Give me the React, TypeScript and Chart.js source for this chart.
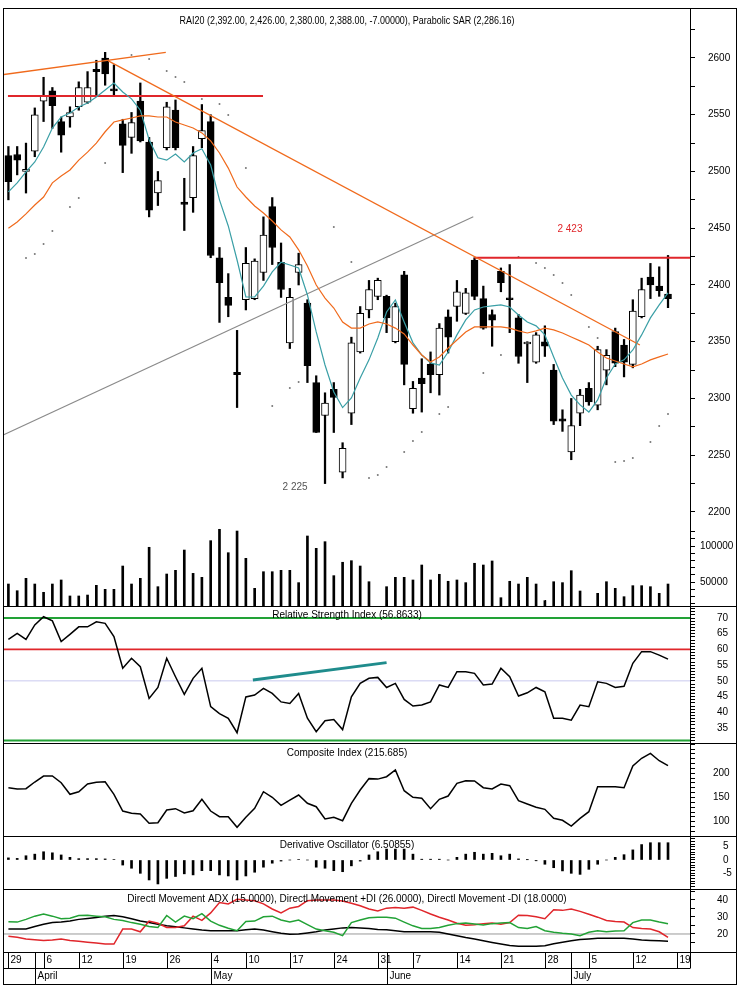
import React, { useEffect, useRef } from "react";
import { Chart, registerables } from "chart.js";

Chart.register(...registerables);

const FONT = '"Liberation Sans", Arial, Helvetica, sans-serif';

// ---------- categories / date axis ----------
const WEEK_SLOTS = [0, 4, 8, 13, 18, 23, 27, 32, 37, 42, 46, 51, 56, 61, 66, 71, 76];
const WEEK_LABELS = ["29", "6", "12", "19", "26", "4", "10", "17", "24", "31", "7", "14", "21", "28", "5", "12", "19"];
const MONTH_SLOTS = [3, 23, 43, 64];
const MONTH_LABELS = ["April", "May", "June", "July"];
const X_RANGE = [-0.5, 77.5];

// ---------- price (OHLC) ----------
const OPEN = [2514, 2515, 2500, 2518, 2562, 2571, 2544, 2548, 2557, 2561, 2590, 2600, 2572, 2542, 2530, 2562, 2526, 2481, 2521, 2554, 2473, 2477, 2529, 2544, 2424, 2389, 2323, 2387, 2388, 2411, 2469, 2420, 2349, 2411, 2384, 2314, 2285, 2308, 2235, 2287, 2341, 2378, 2390, 2390, 2350, 2409, 2291, 2318, 2330, 2321, 2372, 2381, 2375, 2422, 2388, 2374, 2412, 2388, 2371, 2348, 2332, 2350, 2325, 2282, 2253, 2287, 2309, 2294, 2325, 2359, 2347, 2330, 2372, 2407, 2399, 2392];
const HIGH = [2522, 2522, 2525, 2556, 2583, 2574, 2548, 2557, 2579, 2588, 2598, 2605, 2594, 2546, 2552, 2578, 2530, 2500, 2561, 2563, 2494, 2522, 2559, 2550, 2433, 2410, 2360, 2433, 2423, 2460, 2477, 2437, 2397, 2428, 2387, 2320, 2305, 2314, 2261, 2354, 2381, 2404, 2406, 2391, 2384, 2412, 2315, 2335, 2341, 2366, 2378, 2404, 2397, 2424, 2399, 2378, 2415, 2418, 2374, 2350, 2358, 2364, 2330, 2290, 2300, 2308, 2314, 2346, 2343, 2362, 2352, 2387, 2406, 2419, 2416, 2426];
const LOW = [2475, 2497, 2481, 2513, 2544, 2538, 2517, 2539, 2554, 2560, 2567, 2576, 2566, 2499, 2516, 2526, 2460, 2470, 2519, 2519, 2448, 2464, 2521, 2424, 2367, 2372, 2292, 2378, 2387, 2404, 2418, 2389, 2344, 2400, 2314, 2270, 2225, 2270, 2230, 2277, 2340, 2371, 2387, 2358, 2349, 2312, 2287, 2288, 2305, 2303, 2340, 2368, 2374, 2387, 2361, 2346, 2394, 2358, 2331, 2314, 2331, 2337, 2277, 2271, 2246, 2276, 2294, 2290, 2312, 2328, 2319, 2327, 2371, 2388, 2390, 2380];
const CLOSE = [2491, 2510, 2502, 2550, 2567, 2558, 2532, 2552, 2574, 2574, 2588, 2586, 2571, 2523, 2543, 2527, 2466, 2492, 2557, 2521, 2471, 2514, 2536, 2426, 2402, 2382, 2321, 2419, 2421, 2444, 2433, 2396, 2389, 2418, 2329, 2270, 2296, 2301, 2256, 2349, 2375, 2396, 2404, 2371, 2381, 2330, 2309, 2313, 2321, 2362, 2354, 2394, 2393, 2390, 2362, 2369, 2402, 2387, 2337, 2349, 2356, 2346, 2280, 2280, 2276, 2303, 2297, 2343, 2338, 2331, 2332, 2377, 2396, 2400, 2395, 2388];

const VOLUME = [47200, 37900, 55100, 47200, 35700, 47200, 52800, 30600, 30600, 31900, 45400, 39800, 39800, 72200, 47200, 55100, 98200, 43500, 61100, 66200, 94400, 62000, 56500, 107400, 123200, 90700, 120800, 82900, 41200, 64300, 64300, 66200, 66200, 49100, 113900, 96800, 106000, 58800, 77400, 79600, 72200, 50400, null, 43500, 56500, 56500, 52800, 73600, 52800, 60700, 51000, 52800, 49100, 76000, 73600, 79200, 28200, 51000, 47200, 56500, 47200, 24100, 50400, 49100, 65700, 37500, null, 34300, 50400, 41200, 29600, 44900, 44900, 43500, 34300, 47200];

const MA_FAST = [2482, 2490, 2499.6, 2508.4, 2521.6, 2538.3, 2548, 2551.5, 2556.8, 2560.4, 2565.6, 2571.8, 2578, 2570, 2564, 2554, 2528, 2512, 2510, 2515.4, 2508.4, 2516.3, 2520, 2505.7, 2475, 2452, 2422, 2389.4, 2389.4, 2399, 2411.5, 2420, 2417.6, 2415, 2391.2, 2358.6, 2329.5, 2305.7, 2292, 2300.4, 2318, 2334, 2353.3, 2376.2, 2386.8, 2367.4, 2349, 2338.3, 2331.3, 2329.5, 2340.9, 2356, 2369.2, 2378, 2380.6, 2381.5, 2382.4, 2380.6, 2373.6, 2367.4, 2364, 2356, 2336.6, 2318, 2303, 2294.3, 2288, 2298.7, 2318, 2330.4, 2334, 2342.7, 2356, 2371, 2382.4, 2393];
const MA_SLOW = [2450, 2455.5, 2462.6, 2470.5, 2477.5, 2490, 2496, 2501.3, 2510, 2517, 2525, 2535, 2543.6, 2545.4, 2547.1, 2549, 2549, 2548, 2548, 2543.6, 2541, 2538.3, 2534, 2527, 2516.3, 2503, 2486.3, 2477.5, 2469.6, 2463.4, 2456.4, 2448.5, 2442.3, 2431, 2416.7, 2400, 2388.5, 2379.7, 2367.4, 2362, 2362, 2365.6, 2367.4, 2365.6, 2362, 2356.8, 2347.1, 2338.3, 2332.2, 2336.6, 2344.5, 2351.5, 2358.6, 2363, 2363, 2363, 2363, 2362, 2359.5, 2357.7, 2359.5, 2362, 2360.4, 2357.7, 2354.2, 2350.7, 2347.1, 2341, 2335.7, 2333, 2330.4, 2327.8, 2330.4, 2334, 2336.6, 2339.2];

const SAR = [null, null, 2423.8, 2427.3, 2436.1, 2447.6, null, 2468.7, 2476.7, null, null, 2507.5, null, null, 2602.6, null, 2599.1, null, 2588.5, 2583.3, 2578.9, null, 2563.9, null, 2559.5, 2549.8, null, 2503.1, null, null, 2293.4, null, 2309.3, 2314.6, null, null, null, 2451.1, null, 2420.3, null, 2230, 2232.6, 2239.6, null, 2252.9, 2262.6, 2270.5, null, 2286.3, 2292.5, null, null, null, 2322.5, null, 2338.3, null, 2424.7, null, 2419.4, 2415, 2408.8, 2401.8, 2391.2, null, 2363, 2353.3, null, 2244, 2244.9, 2247.6, null, 2261.7, 2275.8, 2286.2];

// trend lines (slot, price)
const TREND_ORANGE_UP = [{ x: -0.95, y: 2585 }, { x: 17.9, y: 2605 }];
const TREND_ORANGE_DOWN = [{ x: 11.36, y: 2597.4 }, { x: 71.8, y: 2347.1 }];
const TREND_GREY = [{ x: -0.58, y: 2267.8 }, { x: 52.86, y: 2460.2 }];
const RESIST_UPPER = [{ x: -0.05, y: 2566.5 }, { x: 28.95, y: 2566.5 }];
const RESIST_LOWER = [{ x: 53, y: 2424 }, { x: 77.5, y: 2424 }];
const PRICE_NOTES = [
  { x: 63.85, y: 2449, text: "2 423" },
  { x: 32.6, y: 2222, text: "2 225" },
];

// ---------- indicators ----------
const RSI = [63.2, 65.1, 63.2, 67.8, 70.4, 69.1, 62.5, 64.8, 67.2, 67.2, 68.8, 68.3, 64.1, 54, 57.2, 54.5, 44.4, 47.9, 57.2, 51.3, 45.7, 50.8, 54, 41.8, 39.6, 38.1, 33.5, 44.9, 45.5, 47.6, 46, 43.3, 42.8, 46, 38.1, 33.8, 37.3, 37.7, 34.5, 44.9, 49.2, 50.8, 51.1, 47.9, 49.2, 44.1, 42, 42.3, 43.3, 48.7, 47.9, 52.9, 52.9, 52.4, 48.7, 49, 54, 51.3, 45.2, 46.2, 47.9, 46.5, 38.1, 38.1, 37.5, 42.3, 41.8, 49.7, 49.2, 47.9, 48.3, 55.6, 59.3, 59.3, 58.2, 56.9];
const RSI_LEVELS_GREEN = [70, 31];
const RSI_LEVEL_RED = 60;
const RSI_LEVEL_MID = 50;
const RSI_TREND = [{ x: 27.8, y: 50.3 }, { x: 43, y: 55.8 }];

const COMPOSITE = [170.3, 167.6, 168.2, 182, 194.4, 194.4, 180.6, 156.6, 162, 177.9, 181.4, 182.6, 156.6, 122.1, 117.4, 115.9, 96.7, 98, 124.2, 126.9, 118, 122.7, 146.3, 122.1, 110.3, 110.3, 88.4, 109.1, 127.7, 162, 150.4, 133.9, 144.8, 155.2, 138, 131, 105.6, 109.1, 102.1, 138, 165.5, 189, 188, 193, 206.8, 164.1, 150.4, 148.3, 126.9, 146.3, 153.1, 179.3, 184.7, 184.1, 170.3, 167.6, 177.9, 174.4, 143.4, 136.6, 129.8, 125.6, 107, 102.9, 91.1, 107, 120.7, 172.3, 172.3, 172.3, 170.3, 215.1, 231, 241.3, 226, 215.7];

const DERIV = [0.8, 0.6, 1.6, 2.2, 3.1, 2.7, 1.9, 1.0, 0.5, 0.5, 0.5, 0.4, 0.2, -1.9, -3.1, -5, -7.5, -9, -6.9, -6.2, -5.2, -5.6, -4, -4, -5.6, -6, -7.5, -6, -4.6, -2.7, -1.2, -0.4, 0, 0.2, 0, -2.7, -3.1, -4, -4.4, -2.2, -0.4, 1.9, 3.1, 4.1, 4.1, 4.1, 2.2, 0.3, 0.3, 0.3, 0, 1.0, 2.2, 2.9, 2.2, 2.5, 1.6, 2.2, 0.4, 0.1, -0.3, -1.6, -2.9, -4.1, -5, -5.4, -3.5, -1.6, 0, 1.0, 2, 3.8, 5.8, 6.5, 6.5, 6.5];

const ADX = [22.9, 22.9, 22.9, 24.4, 25.7, 26.7, 27, 27.6, 28.6, 29.1, 29.7, 30.5, 30.9, 30.1, 29, 27.6, 26.7, 25.7, 24.8, 24.2, 23.6, 22.9, 22.3, 21.9, 21.9, 21.9, 21.9, 22.5, 22.9, 22.3, 21.3, 20.4, 19.8, 20, 20.6, 21.3, 22.3, 22.9, 23.6, 23.8, 23.6, 23.2, 22.7, 22.5, 21.9, 21.3, 21.3, 21.3, 21.3, 21, 20, 19, 17.9, 17, 16, 15, 14.1, 13.3, 12.8, 12.8, 12.8, 13.1, 14.3, 15.2, 16, 16.8, 17.1, 17.5, 17.5, 17.5, 17.5, 17, 16.4, 16.2, 16, 15.8];
const PLUS_DI = [27.2, 27, 28.6, 30.5, 31.8, 30.5, 29, 29.3, 30.9, 31, 30.5, 30.1, 28.6, 28, 26.7, 25.7, 24.4, 23.8, 30.9, 27, 30.5, 29, 32, 27.6, 25.1, 23.4, 21.9, 27.4, 27.6, 30.1, 30.5, 28.2, 27, 28.2, 25.5, 22.9, 21.9, 21, 19, 26.7, 28.2, 29.5, 29.9, 29.9, 29.3, 27, 24.8, 23.2, 23.2, 23.8, 25.1, 26.1, 26.5, 25.9, 25.3, 26.1, 26.5, 26.7, 23.8, 23.2, 24.4, 21.9, 21, 20.4, 20, 19, 21, 21.9, 21.3, 21.7, 21.9, 26.7, 28.2, 28.2, 27, 26];
const MINUS_DI = [18.7, 18.1, 17.1, 16.6, 16.2, 16.4, 17.1, 16.2, 15.8, 15.2, 14.7, 14.1, 14.1, 22.9, 22.9, 21.3, 27.6, 26.3, 23.8, 23.8, 24.8, 30.5, 28, 32.4, 38.5, 37.7, 40.4, 40, 39.6, 37.7, 34.7, 32.4, 35.2, 36.2, 39.6, 40, 40, 40, 39.4, 38.1, 36.6, 34.7, 33.5, 35.2, 35.6, 35.2, 35.8, 33.9, 31.8, 29.9, 28.2, 26.3, 25.1, 25.5, 26.1, 26.5, 25.7, 26.7, 31, 30.9, 30.1, 29, 34.3, 33.9, 34.7, 33.3, 31.6, 29.9, 28, 27.4, 27, 23.8, 23.2, 22.9, 21.3, 18];
const DMI_LEVEL = 20;

// ---------- axis ticks ----------
const PRICE_TICKS = [2200, 2225, 2250, 2275, 2300, 2325, 2350, 2375, 2400, 2425, 2450, 2475, 2500, 2525, 2550, 2575, 2600, 2625];
const PRICE_TICK_LABELS = [2200, 2250, 2300, 2350, 2400, 2450, 2500, 2550, 2600];
const VOLUME_TICKS = [20000, 30000, 40000, 50000, 60000, 70000, 80000, 90000, 100000, 110000, 120000];
const VOLUME_TICK_LABELS = [50000, 100000];
const RSI_TICKS = [31, 32, 33, 34, 35, 36, 37, 38, 39, 40, 41, 42, 43, 44, 45, 46, 47, 48, 49, 50, 51, 52, 53, 54, 55, 56, 57, 58, 59, 60, 61, 62, 63, 64, 65, 66, 67, 68, 69, 70, 71, 72, 73];
const RSI_TICK_LABELS = [35, 40, 45, 50, 55, 60, 65, 70];
const COMPOSITE_TICKS = [80, 90, 100, 110, 120, 130, 140, 150, 160, 170, 180, 190, 200, 210, 220, 230, 240, 250, 260];
const COMPOSITE_TICK_LABELS = [100, 150, 200];
const DERIV_TICKS = [-10, -9, -8, -7, -6, -5, -4, -3, -2, -1, 0, 1, 2, 3, 4, 5, 6, 7, 8];
const DERIV_TICK_LABELS = [-5, 0, 5];
const DMI_TICKS = [15, 20, 25, 30, 35, 40, 45];
const DMI_TICK_LABELS = [20, 30, 40];

const TITLES = {
  price: "RAI20 (2,392.00, 2,426.00, 2,380.00, 2,388.00, -7.00000), Parabolic SAR (2,286.16)",
  rsi: "Relative Strength Index (56.8633)",
  comp: "Composite Index (215.685)",
  deriv: "Derivative Oscillator (6.50855)",
  dmi: "Directl Movement ADX (15.0000), Directl Movement +DI (26.0000), Directl Movement -DI (18.0000)",
};

const C_ORANGE = "#f06a1c";
const C_TEAL = "#3a9fa6";
const C_RED = "#e0262b";
const C_GREEN = "#22a236";

const series = (arr: (number | null)[]) =>
  arr.map((v, i) => ({ x: i, y: v })).filter((p) => p.y !== null && p.y !== undefined);
const level = (v: number) => [{ x: X_RANGE[0], y: v }, { x: X_RANGE[1], y: v }];

function lineDS(data: any[], yAxisID: string, color: string, width: number, order = 0) {
  return {
    type: "line" as const,
    data,
    xAxisID: "x",
    yAxisID,
    borderColor: color,
    borderWidth: width,
    pointRadius: 0,
    tension: 0,
    fill: false,
    order,
  };
}

function yAxis(opts: {
  weight: number; min: number; max: number; ticks: number[]; labels: number[]; pad: number;
}) {
  return {
    type: "linear" as const,
    position: "right" as const,
    stack: "panels",
    stackWeight: opts.weight,
    min: opts.min,
    max: opts.max,
    offset: false,
    grid: { drawOnChartArea: false, drawTicks: true, tickLength: 5, color: "#000", lineWidth: 1 },
    border: { display: true, color: "#000", width: 1 },
    ticks: {
      autoSkip: false,
      padding: opts.pad,
      crossAlign: "near" as const,
      color: "#000",
      font: { family: FONT, size: 10 },
      callback: (v: any) => (opts.labels.includes(Number(v)) ? String(v) : ""),
    },
    afterBuildTicks: (s: any) => {
      s.ticks = opts.ticks.map((v) => ({ value: v }));
    },
    afterFit: (s: any) => {
      s.width = 47;
      s.paddingTop = 0;
      s.paddingBottom = 0;
    },
  };
}

const overlayPlugin = {
  id: "overlay",
  afterDraw(chart: any) {
    const { ctx, chartArea, scales } = chart;
    const xS = scales.x;
    const px = (v: number) => Math.round(xS.getPixelForValue(v)) + 0.5;
    const L = 3.5;
    const R = 736.5;
    const ax = Math.round(chartArea.right) + 0.5;
    ctx.save();
    ctx.lineWidth = 1;
    ctx.strokeStyle = "#000";
    const hline = (y: number, x1: number, x2: number) => {
      ctx.beginPath(); ctx.moveTo(x1, y); ctx.lineTo(x2, y); ctx.stroke();
    };
    const vline = (x: number, y1: number, y2: number) => {
      ctx.beginPath(); ctx.moveTo(x, y1); ctx.lineTo(x, y2); ctx.stroke();
    };

    // slot ticks at the bottom of the price/volume panel
    const pb = Math.round(scales.vol.bottom);
    VOLUME.forEach((v, i) => {
      if (v !== null) vline(px(i), pb - 6, pb);
    });

    // panel separators
    [scales.rsi.top, scales.comp.top, scales.deriv.top, scales.dmi.top, scales.dmi.bottom].forEach((y: number) =>
      hline(Math.round(y) + 0.5, L, R)
    );

    // date rows
    const r0 = Math.round(scales.dmi.bottom);
    const r1 = r0 + 16;
    const r2 = r0 + 32;
    hline(r1 + 0.5, L, ax);
    vline(ax, r0, r1);
    ctx.font = `10px ${FONT}`;
    ctx.fillStyle = "#000";
    ctx.textBaseline = "middle";
    ctx.textAlign = "left";
    WEEK_SLOTS.forEach((s, k) => {
      const x = px(s);
      vline(x, r0, r1);
      ctx.fillText(WEEK_LABELS[k], x + 2, r0 + 8.5);
    });
    MONTH_SLOTS.forEach((s, k) => {
      const x = px(s);
      vline(x, r0, r2);
      ctx.fillText(MONTH_LABELS[k], x + 2, r1 + 8.5);
    });

    // outer frame
    ctx.strokeRect(L, 8.5, R - L, r2 - 8);

    // panel titles
    const cx = (chartArea.left + chartArea.right) / 2;
    ctx.textAlign = "center";
    ctx.fillStyle = "#000";
    ctx.fillText(TITLES.price, cx, scales.price.top + 13, 335);
    ctx.fillText(TITLES.rsi, cx, scales.rsi.top + 9);
    ctx.fillText(TITLES.comp, cx, scales.comp.top + 10);
    ctx.fillText(TITLES.deriv, cx, scales.deriv.top + 9);
    ctx.fillText(TITLES.dmi, cx, scales.dmi.top + 10, 459);

    // price notes
    PRICE_NOTES.forEach((n, k) => {
      ctx.fillStyle = k === 0 ? C_RED : "#555";
      ctx.fillText(n.text, xS.getPixelForValue(n.x), scales.price.getPixelForValue(n.y));
    });
    ctx.restore();
  },
};

export default function App() {
  const ref = useRef<HTMLCanvasElement>(null);

  useEffect(() => {
    const canvas = ref.current;
    if (!canvas) return;

    const bodies = OPEN.map((o, i) => ({ x: i, y: [Math.min(o, CLOSE[i]), Math.max(o, CLOSE[i])] }));
    const bodyColors = OPEN.map((o, i) => (CLOSE[i] >= o ? "#ffffff" : "#000000"));
    const wicks = OPEN.map((_, i) => ({ x: i, y: [LOW[i], HIGH[i]] }));

    const datasets: any[] = [
      // price panel
      {
        type: "bar", data: wicks, xAxisID: "x", yAxisID: "price", grouped: false,
        barThickness: 1.6, backgroundColor: "#000", order: 3,
      },
      {
        type: "bar", data: bodies, xAxisID: "x", yAxisID: "price", grouped: false,
        barThickness: 7, backgroundColor: bodyColors, borderColor: "#000", borderWidth: 1,
        borderSkipped: false, minBarLength: 2, order: 2,
      },
      lineDS(series(MA_SLOW), "price", C_ORANGE, 1.2, 1),
      lineDS(series(MA_FAST), "price", C_TEAL, 1.2, 1),
      lineDS(TREND_ORANGE_UP, "price", C_ORANGE, 1.3, 1),
      lineDS(TREND_ORANGE_DOWN, "price", C_ORANGE, 1.3, 1),
      lineDS(TREND_GREY, "price", "#8a8a8a", 1.1, 1),
      lineDS(RESIST_UPPER, "price", C_RED, 2, 1),
      lineDS(RESIST_LOWER, "price", C_RED, 2, 1),
      {
        type: "line", data: series(SAR), xAxisID: "x", yAxisID: "price", showLine: false,
        pointRadius: 1, pointBackgroundColor: "#777", pointBorderWidth: 0, order: 1,
      },
      // volume
      {
        type: "bar", data: series(VOLUME), xAxisID: "x", yAxisID: "vol", grouped: false,
        barThickness: 2, backgroundColor: "#000", order: 2,
      },
      // RSI
      lineDS(level(RSI_LEVEL_MID), "rsi", "#c9c9ef", 1, 2),
      lineDS(level(RSI_LEVELS_GREEN[0]), "rsi", C_GREEN, 2, 2),
      lineDS(level(RSI_LEVELS_GREEN[1]), "rsi", C_GREEN, 2, 2),
      lineDS(level(RSI_LEVEL_RED), "rsi", C_RED, 1.8, 2),
      lineDS(series(RSI), "rsi", "#000", 1.5, 1),
      lineDS(RSI_TREND, "rsi", "#1f8c8c", 3, 1),
      // composite
      lineDS(series(COMPOSITE), "comp", "#000", 1.5, 1),
      // derivative oscillator
      {
        type: "bar", data: series(DERIV), xAxisID: "x", yAxisID: "deriv", grouped: false,
        barThickness: 2, backgroundColor: "#000", order: 1,
      },
      // DMI
      lineDS(level(DMI_LEVEL), "dmi", "#999", 1, 3),
      lineDS(series(ADX), "dmi", "#000", 1.5, 2),
      lineDS(series(PLUS_DI), "dmi", C_GREEN, 1.5, 1),
      lineDS(series(MINUS_DI), "dmi", C_RED, 1.5, 1),
    ];

    const chart = new Chart(canvas, {
      type: "line",
      data: { datasets },
      options: {
        responsive: false,
        animation: false,
        devicePixelRatio: 1,
        events: [],
        layout: { padding: { left: 4, top: 8, right: 2, bottom: 36 } },
        plugins: { legend: { display: false }, tooltip: { enabled: false } },
        scales: {
          x: {
            type: "linear", min: X_RANGE[0], max: X_RANGE[1], display: false, offset: false,
            grid: { offset: false },
          },
          price: yAxis({ weight: 517, min: 2188.5, max: 2644.05, ticks: PRICE_TICKS, labels: PRICE_TICK_LABELS, pad: 13 }),
          vol: yAxis({ weight: 81, min: 16667, max: 129167, ticks: VOLUME_TICKS, labels: VOLUME_TICK_LABELS, pad: 5 }),
          rsi: yAxis({ weight: 137, min: 30.23, max: 73.82, ticks: RSI_TICKS, labels: RSI_TICK_LABELS, pad: 22 }),
          comp: yAxis({ weight: 93, min: 70.5, max: 262.6, ticks: COMPOSITE_TICKS, labels: COMPOSITE_TICK_LABELS, pad: 18 }),
          deriv: yAxis({ weight: 53, min: -10.9, max: 9.02, ticks: DERIV_TICKS, labels: DERIV_TICK_LABELS, pad: 28 }),
          dmi: yAxis({ weight: 63, min: 9.41, max: 46.47, ticks: DMI_TICKS, labels: DMI_TICK_LABELS, pad: 22 }),
        } as any,
      },
      plugins: [overlayPlugin],
    });

    return () => chart.destroy();
  }, []);

  return (
    <div style={{ position: "absolute", left: 0, top: 0, width: 739, height: 988, background: "#fff" }}>
      <canvas ref={ref} width={739} height={988} style={{ display: "block", width: 739, height: 988 }} />
    </div>
  );
}
